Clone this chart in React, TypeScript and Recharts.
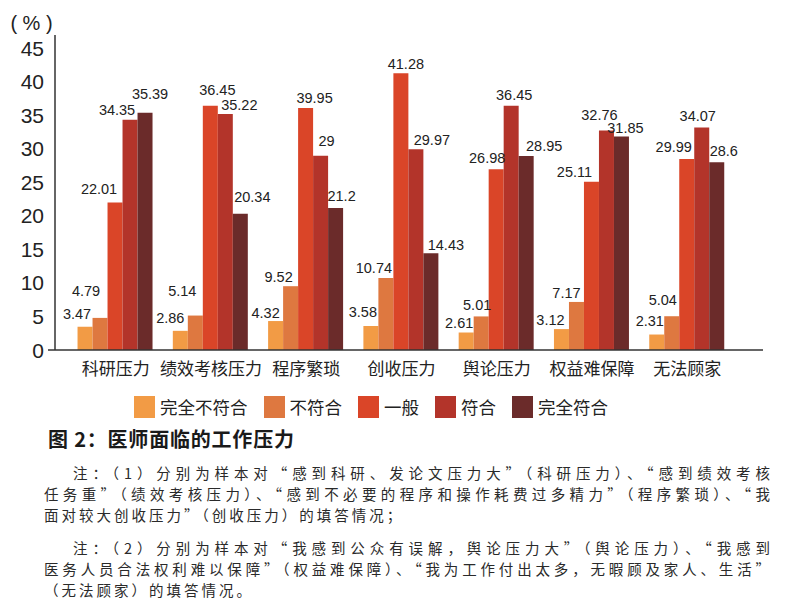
import React from 'react';
import { BarChart, Bar, XAxis, YAxis, LabelList } from 'recharts';

const categories = ['科研压力', '绩效考核压力', '程序繁琐', '创收压力', '舆论压力', '权益难保障', '无法顾家'];
const seriesNames = ['完全不符合', '不符合', '一般', '符合', '完全符合'];
const seriesColors = ['#F29B45', '#DE7840', '#DA4528', '#B3342A', '#6B2B2A'];

const s0Values = [3.47, 2.86, 4.32, 3.58, 2.61, 3.12, 2.31];
const s1Values = [4.79, 5.14, 9.52, 10.74, 5.01, 7.17, 5.04];
const s2Values = [22.01, 36.45, 36.1, 41.28, 26.98, 25.11, 28.5];
const s3Values = [34.35, 35.22, 29, 29.97, 36.45, 32.76, 33.2];
const s4Values = [35.39, 20.34, 21.2, 14.43, 28.95, 31.85, 28.0];

const s0Labels = ['3.47', '2.86', '4.32', '3.58', '2.61', '3.12', '2.31'];
const s1Labels = ['4.79', '5.14', '9.52', '10.74', '5.01', '7.17', '5.04'];
const s2Labels = ['22.01', '36.45', '39.95', '41.28', '26.98', '25.11', '29.99'];
const s3Labels = ['34.35', '35.22', '29', '29.97', '36.45', '32.76', '34.07'];
const s4Labels = ['35.39', '20.34', '21.2', '14.43', '28.95', '31.85', '28.6'];

const yTicks = [0, 5, 10, 15, 20, 25, 30, 35, 40, 45];

const titleText = '图 2：医师面临的工作压力';
const note1Lines = [
  '注：（1）分别为样本对“感到科研、发论文压力大”（科研压力）、“感到绩效考核',
  '任务重”（绩效考核压力）、“感到不必要的程序和操作耗费过多精力”（程序繁琐）、“我',
  '面对较大创收压力”（创收压力）的填答情况；',
];
const note2Lines = [
  '注：（2）分别为样本对“我感到公众有误解，舆论压力大”（舆论压力）、“我感到',
  '医务人员合法权利难以保障”（权益难保障）、“我为工作付出太多，无暇顾及家人、生活”',
  '（无法顾家）的填答情况。',
];

// label placement nudges (style): [dx from bar centre, height of label centre above bar top]
const s0Nudge = [[-8, 13], [-10, 13], [-10, 8], [-8, 14], [-7, 10], [-11, 9], [-7, 14]];
const s1Nudge = [[-14, 27], [-13, 25], [-12, 9], [-12, 10], [-4, 11], [-10, 9], [-9, 16]];
const s2Nudge = [[-16, 13], [7, 16], [9, 10], [5, 9], [-9, 11], [-17, 10], [-13, 12]];
const s3Nudge = [[-13, 10], [14, 9], [6, 15], [16, 9], [3, 11], [-7, 15], [-4, 11]];
const s4Nudge = [[5, 19], [12, 17], [6, 12], [15, 8], [18, 10], [4, 9], [7, 11]];

const valueSets = [s0Values, s1Values, s2Values, s3Values, s4Values];
const labelSets = [s0Labels, s1Labels, s2Labels, s3Labels, s4Labels];
const nudgeSets = [s0Nudge, s1Nudge, s2Nudge, s3Nudge, s4Nudge];

const data = categories.map((c, i) => {
  const row: Record<string, string | number> = { cat: c };
  valueSets.forEach((vals, k) => {
    row[`v${k}`] = vals[i];
    row[`l${k}`] = labelSets[k][i];
  });
  return row;
});

const latin = '"Liberation Sans", Arial, sans-serif';
const cjk = '"Noto Sans CJK SC", "Liberation Sans", sans-serif';

const makeLabel = (k: number) => (p: any) => {
  const vb = p.viewBox && p.viewBox.width !== undefined ? p.viewBox : p;
  let idx = typeof p.index === 'number' ? p.index : labelSets[k].indexOf(String(p.value));
  if (idx < 0) idx = 0;
  const [dx, up] = nudgeSets[k][idx];
  const x = vb.x + vb.width / 2 + dx;
  const y = vb.y - up + 5;
  return (
    <text key={`lab-${k}-${idx}`} x={x} y={y} textAnchor="middle" fontSize={14.5} fill="#222" fontFamily={latin}>
      {p.value}
    </text>
  );
};

const YTick = (props: any) => {
  const { x, y, payload } = props;
  return (
    <g>
      <text x={x} y={y} dy={7.5} textAnchor="end" fontSize={21} fill="#222" fontFamily={latin}>
        {payload.value}
      </text>
      {payload.value === 0 && (
        <line x1={x + 4} x2={x + 11} y1={y} y2={y} stroke="#333" strokeWidth={1.5} />
      )}
    </g>
  );
};

const XTick = (props: any) => {
  const { x, y, payload } = props;
  return (
    <text x={x} y={y} dy={12} textAnchor="middle" fontSize={17} fill="#222" fontFamily={cjk}>
      {payload.value}
    </text>
  );
};

function NoteBlock({ lines, top }: { lines: string[]; top: number }) {
  return (
    <>
      {lines.map((t, i) => {
        const isFirst = i === 0;
        const isLast = i === lines.length - 1;
        const left = isFirst ? 73 : 44;
        const style = {
          position: 'absolute',
          fontFamily: cjk,
          fontSize: 14.5,
          lineHeight: '21px',
          color: '#2a2a2a',
          top: top + i * 21,
          left,
          width: isLast ? undefined : 770 - left,
          textAlign: isLast ? 'left' : 'justify',
          textAlignLast: isLast ? 'auto' : 'justify',
          whiteSpace: isLast ? 'nowrap' : 'normal',
          letterSpacing: isLast ? 3 : 0,
        } as React.CSSProperties;
        return (
          <div key={i} style={style}>
            {t}
          </div>
        );
      })}
    </>
  );
}

export default function App() {
  return (
    <div style={{ position: 'absolute', left: 0, top: 0, width: 790, height: 610, background: '#fff', overflow: 'hidden' }}>
      <BarChart
        width={790}
        height={390}
        data={data}
        margin={{ top: 35, right: 27, left: 8, bottom: 10 }}
        barCategoryGap="10%"
        barGap={0}
      >
        <XAxis
          dataKey="cat"
          height={30}
          padding={{ left: 13, right: 28 }}
          axisLine={{ stroke: '#333', strokeWidth: 1.5 }}
          tickLine={false}
          tickSize={0}
          tickMargin={13}
          tick={<XTick />}
          interval={0}
        />
        <YAxis
          width={47}
          domain={[0, 47]}
          ticks={yTicks}
          allowDataOverflow
          axisLine={{ stroke: '#333', strokeWidth: 1.5 }}
          tickLine={false}
          tickSize={0}
          tickMargin={11}
          tick={<YTick />}
          label={{ value: '( % )', position: 'top', offset: 5, fontSize: 20, fill: '#222', fontFamily: latin }}
        />
        {seriesNames.map((name, k) => (
          <Bar key={name} dataKey={`v${k}`} name={name} fill={seriesColors[k]} isAnimationActive={false}>
            <LabelList dataKey={`l${k}`} content={makeLabel(k)} />
          </Bar>
        ))}
      </BarChart>

      <div
        style={{
          position: 'absolute',
          top: 396,
          left: 134,
          display: 'flex',
          alignItems: 'center',
          gap: 16,
          fontFamily: cjk,
          fontSize: 17.5,
          color: '#222',
        }}
      >
        {seriesNames.map((n, k) => (
          <div key={n} style={{ display: 'flex', alignItems: 'center' }}>
            <div style={{ width: 21, height: 22, background: seriesColors[k], marginRight: 5 }} />
            <span style={{ lineHeight: '22px' }}>{n}</span>
          </div>
        ))}
      </div>

      <div
        style={{
          position: 'absolute',
          top: 427,
          left: 48,
          fontFamily: cjk,
          fontSize: 20,
          lineHeight: '24px',
          fontWeight: 700,
          color: '#1a1a1a',
          letterSpacing: 0.8,
          whiteSpace: 'nowrap',
        }}
      >
        {titleText}
      </div>

      <NoteBlock lines={note1Lines} top={461.5} />
      <NoteBlock lines={note2Lines} top={536.5} />
    </div>
  );
}
